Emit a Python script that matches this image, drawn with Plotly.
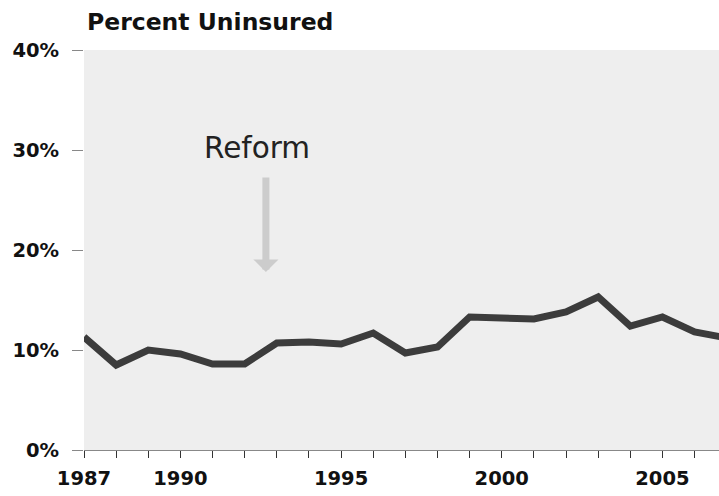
import plotly.graph_objects as go

years = list(range(1987, 2008))
uninsured = [11.3, 8.5, 10.0, 9.6, 8.6, 8.6, 10.7, 10.8, 10.6, 11.7, 9.7,
             10.3, 13.3, 13.2, 13.1, 13.8, 15.3, 12.4, 13.3, 11.8, 11.2]
y_ticks = [0, 10, 20, 30, 40]
x_tickvals = [1987, 1990, 1995, 2000, 2005]
title_text = "Percent Uninsured"
note_text = "Reform"
reform_year = 1992.66

fig = go.Figure()
fig.add_trace(go.Scatter(x=years, y=uninsured, mode="lines",
                         line=dict(color="#3c3c3c", width=7),
                         hoverinfo="skip", showlegend=False))

tick_font = dict(family="DejaVu Sans", size=19.5, color="#111", weight="bold")

fig.update_layout(
    width=719, height=496,
    margin=dict(l=84, r=0, t=50, b=46),
    paper_bgcolor="white", plot_bgcolor="#eeeeee",
    showlegend=False,
    xaxis=dict(range=[1987, 2006.76], tickmode="array",
               tickvals=list(range(1987, 2007)),
               ticktext=[str(y) if y in x_tickvals else "" for y in range(1987, 2007)],
               ticks="outside", ticklen=7, tickcolor="#333", tickwidth=1,
               showline=True, linecolor="#888", linewidth=1,
               showgrid=False, zeroline=False, tickfont=tick_font,
               ticklabelstandoff=4),
    yaxis=dict(range=[0, 40], tickvals=y_ticks,
               ticktext=[f"{v}%" for v in y_ticks],
               ticks="outside", ticklen=11, tickcolor="#888", tickwidth=1,
               showline=False, showgrid=False, zeroline=False,
               tickfont=tick_font, ticklabelstandoff=9),
)

fig.add_annotation(x=0.002, y=1.07, xref="paper", yref="paper",
                   text=title_text, showarrow=False, xanchor="left",
                   yanchor="middle",
                   font=dict(family="DejaVu Sans", size=23.5, color="#111",
                             weight="bold"))

fig.add_annotation(x=1992.38, y=30.2, xref="x", yref="y", text=note_text,
                   showarrow=False, xanchor="center", yanchor="middle",
                   font=dict(family="DejaVu Sans", size=29.5, color="#222"))

fig.add_annotation(x=reform_year, y=17.8, xref="x", yref="y",
                   ax=reform_year, ay=27.4, axref="x", ayref="y",
                   text="", showarrow=True, arrowhead=1, arrowsize=0.6,
                   arrowwidth=7, arrowcolor="#cccccc")

fig.write_html("out.html")
